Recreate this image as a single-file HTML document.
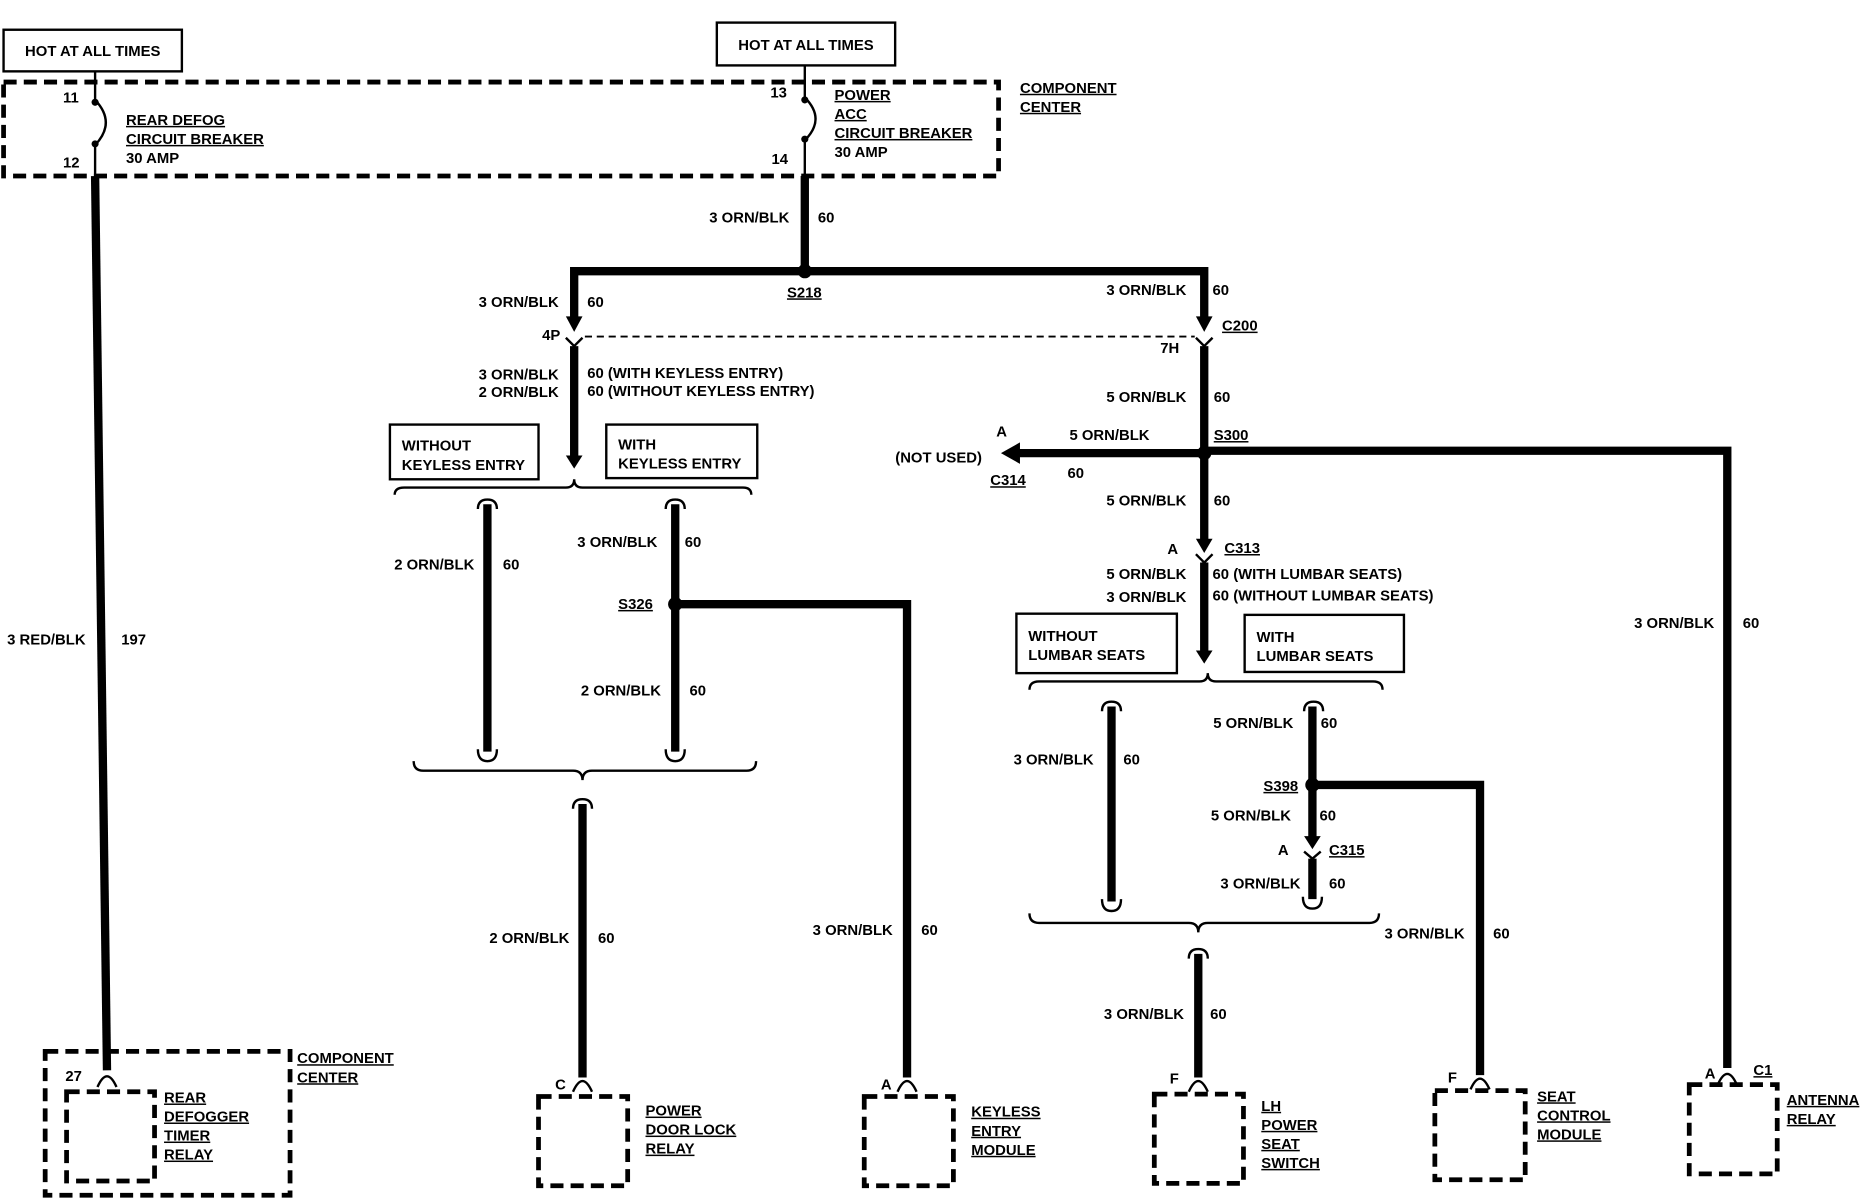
<!DOCTYPE html>
<html><head><meta charset="utf-8"><style>
html,body{margin:0;padding:0;background:#fff;}
svg{display:block}
text{font-family:"Liberation Sans Narrow","Liberation Sans",sans-serif;font-weight:bold;font-size:12.5px;fill:#000}
.e{text-anchor:end}
.u{text-decoration:underline}
.w{stroke:#000;stroke-width:7;fill:none}
.t{stroke:#000;stroke-width:2;fill:none}
.d{stroke:#000;stroke-width:4;fill:none;stroke-dasharray:11,6}
.dt{stroke:#000;stroke-width:1.5;fill:none;stroke-dasharray:6,4}
</style></head><body>
<svg width="1864" height="1200" viewBox="0 0 1568 1009" preserveAspectRatio="none" xmlns="http://www.w3.org/2000/svg">
<!-- top boxes -->
<rect x="3" y="25" width="150" height="35" class="t"/>
<text x="78" y="47" text-anchor="middle">HOT AT ALL TIMES</text>
<rect x="603" y="19" width="150" height="36" class="t"/>
<text x="678" y="42" text-anchor="middle">HOT AT ALL TIMES</text>
<!-- component center dashed -->
<path d="M3,69 H840 V148 H3 Z" class="d"/>
<text x="858" y="78" class="u">COMPONENT</text><text x="858" y="94" class="u">CENTER</text>
<!-- fuse 1 -->
<path d="M80,60 V84 M80,122 V148" class="t"/>
<path d="M80,84 Q98,103 80,122" class="t"/>
<circle cx="80" cy="86" r="3"/><circle cx="80" cy="121" r="3"/>
<text x="53" y="86">11</text><text x="53" y="141">12</text>
<text x="106" y="105" class="u">REAR DEFOG</text><text x="106" y="121" class="u">CIRCUIT BREAKER</text><text x="106" y="137">30 AMP</text>
<!-- fuse 2 -->
<path d="M677,55 V82 M677,118 V148" class="t"/>
<path d="M677,82 Q695,100 677,118" class="t"/>
<circle cx="677" cy="84" r="3"/><circle cx="677" cy="117" r="3"/>
<text x="648" y="82">13</text><text x="649" y="138">14</text>
<text x="702" y="84" class="u">POWER</text><text x="702" y="100" class="u">ACC</text><text x="702" y="116" class="u">CIRCUIT BREAKER</text><text x="702" y="132">30 AMP</text>
<!-- rear defog wire -->
<path d="M80,148 L90,900" class="w"/>
<path d="M82,914 Q86,905 90,905 Q94,905 98,914" class="t" stroke-width="2.5"/>
<text x="72" y="542" class="e">3 RED/BLK</text><text x="102" y="542">197</text>
<path d="M38,884 H244 V1005 H38 Z" class="d"/>
<path d="M56,918 H130 V993 H56 Z" class="d"/>
<text x="55" y="909">27</text>
<text x="138" y="927" class="u">REAR</text><text x="138" y="943" class="u">DEFOGGER</text><text x="138" y="959" class="u">TIMER</text><text x="138" y="975" class="u">RELAY</text>
<text x="250" y="894" class="u">COMPONENT</text><text x="250" y="910" class="u">CENTER</text>
<!-- main feed -->
<path d="M677,148 V228" class="w"/>
<text x="664" y="187" class="e">3 ORN/BLK</text><text x="688" y="187">60</text>
<circle cx="677" cy="228" r="6"/>
<path d="M483,268 V228 H1013 V268" class="w"/>
<text x="662" y="250" class="u">S218</text>
<text x="470" y="258" class="e">3 ORN/BLK</text><text x="494" y="258">60</text>
<text x="998" y="248" class="e">3 ORN/BLK</text><text x="1020" y="248">60</text>
<path d="M476,266 H490 L483,279 Z"/><path d="M1006,266 H1020 L1013,279 Z"/>
<path d="M476,284 L483,291 L490,284 M1006,284 L1013,291 L1020,284" class="t"/>
<path d="M492,283 H1005" class="dt"/>
<text x="456" y="286">4P</text><text x="976" y="297">7H</text>
<text x="1028" y="278" class="u">C200</text>
<!-- left keyless branch -->
<path d="M483,291 V384" class="w"/>
<path d="M476,383 H490 L483,394 Z"/>
<text x="470" y="319" class="e">3 ORN/BLK</text><text x="470" y="334" class="e">2 ORN/BLK</text>
<text x="494" y="318">60 (WITH KEYLESS ENTRY)</text><text x="494" y="333">60 (WITHOUT KEYLESS ENTRY)</text>
<rect x="328" y="357" width="125" height="46" class="t"/>
<text x="338" y="379">WITHOUT</text><text x="338" y="395">KEYLESS ENTRY</text>
<rect x="510" y="357" width="127" height="45" class="t"/>
<text x="520" y="378">WITH</text><text x="520" y="394">KEYLESS ENTRY</text>
<path d="M332,416 Q332,410 340,410 H476 Q483,410 483,403 Q483,410 490,410 H625 Q632,410 632,416" class="t"/>
<path d="M402,428 Q402,420 410,420 Q418,420 418,428 M560,428 Q560,420 568,420 Q576,420 576,428" class="t"/>
<path d="M410,424 V632 M568,424 V632" class="w"/>
<path d="M402,630 Q402,640 410,640 Q418,640 418,630 M560,630 Q560,640 568,640 Q576,640 576,630" class="t"/>
<text x="399" y="479" class="e">2 ORN/BLK</text><text x="423" y="479">60</text>
<text x="553" y="460" class="e">3 ORN/BLK</text><text x="576" y="460">60</text>
<circle cx="568" cy="508" r="6"/>
<text x="520" y="512" class="u">S326</text>
<text x="556" y="585" class="e">2 ORN/BLK</text><text x="580" y="585">60</text>
<path d="M568,508 H763 V906" class="w"/>
<text x="751" y="786" class="e">3 ORN/BLK</text><text x="775" y="786">60</text>
<path d="M755,918 Q759,909 763,909 Q767,909 771,918" class="t" stroke-width="2.5"/>
<text x="741" y="916">A</text>
<path d="M727,922 H802 V997 H727 Z" class="d"/>
<text x="817" y="939" class="u">KEYLESS</text><text x="817" y="955" class="u">ENTRY</text><text x="817" y="971" class="u">MODULE</text>
<path d="M348,640 Q348,648 356,648 H482 Q490,648 490,656 Q490,648 498,648 H628 Q636,648 636,640" class="t"/>
<path d="M482,680 Q482,672 490,672 Q498,672 498,680" class="t"/>
<path d="M490,676 V906" class="w"/>
<text x="479" y="793" class="e">2 ORN/BLK</text><text x="503" y="793">60</text>
<path d="M482,918 Q486,909 490,909 Q494,909 498,918" class="t" stroke-width="2.5"/>
<text x="467" y="916">C</text>
<path d="M453,922 H528 V997 H453 Z" class="d"/>
<text x="543" y="938" class="u">POWER</text><text x="543" y="954" class="u">DOOR LOCK</text><text x="543" y="970" class="u">RELAY</text>
<!-- right branch -->
<path d="M1013,291 V455" class="w"/>
<text x="998" y="338" class="e">5 ORN/BLK</text><text x="1021" y="338">60</text>
<circle cx="1013" cy="381" r="6"/>
<text x="1021" y="370" class="u">S300</text>
<path d="M1013,381 H855" class="w"/>
<path d="M858,372 V390 L842,381 Z"/>
<text x="967" y="370" class="e">5 ORN/BLK</text>
<text x="838" y="367">A</text>
<text x="826" y="389" class="e">(NOT USED)</text>
<text x="833" y="408" class="u">C314</text><text x="898" y="402">60</text>
<path d="M1013,379 H1453 V898" class="w"/>
<text x="1442" y="528" class="e">3 ORN/BLK</text><text x="1466" y="528">60</text>
<path d="M1445,912 Q1449,903 1453,903 Q1457,903 1461,912" class="t" stroke-width="2.5"/>
<text x="1434" y="907">A</text><text x="1475" y="904" class="u">C1</text>
<path d="M1421,912 H1495 V987 H1421 Z" class="d"/>
<text x="1503" y="929" class="u">ANTENNA</text><text x="1503" y="945" class="u">RELAY</text>
<text x="998" y="425" class="e">5 ORN/BLK</text><text x="1021" y="425">60</text>
<path d="M1006,453 H1020 L1013,465 Z"/>
<path d="M1006,466 L1013,473 L1020,466" class="t"/>
<text x="982" y="466">A</text><text x="1030" y="465" class="u">C313</text>
<path d="M1013,473 V548" class="w"/>
<path d="M1006,547 H1020 L1013,558 Z"/>
<text x="998" y="487" class="e">5 ORN/BLK</text><text x="998" y="506" class="e">3 ORN/BLK</text>
<text x="1020" y="487">60 (WITH LUMBAR SEATS)</text><text x="1020" y="505">60 (WITHOUT LUMBAR SEATS)</text>
<rect x="855" y="516" width="135" height="50" class="t"/>
<text x="865" y="539">WITHOUT</text><text x="865" y="555">LUMBAR SEATS</text>
<rect x="1047" y="517" width="134" height="48" class="t"/>
<text x="1057" y="540">WITH</text><text x="1057" y="556">LUMBAR SEATS</text>
<path d="M866,580 Q866,573 874,573 H1009 Q1016,573 1016,566 Q1016,573 1023,573 H1155 Q1163,573 1163,580" class="t"/>
<path d="M927,598 Q927,590 935,590 Q943,590 943,598 M1097,598 Q1097,590 1105,590 Q1113,590 1113,598" class="t"/>
<path d="M935,594 V758" class="w"/>
<path d="M927,756 Q927,766 935,766 Q943,766 943,756" class="t"/>
<text x="920" y="643" class="e">3 ORN/BLK</text><text x="945" y="643">60</text>
<path d="M1104,594 V706" class="w"/>
<text x="1088" y="612" class="e">5 ORN/BLK</text><text x="1111" y="612">60</text>
<circle cx="1104" cy="660" r="6"/>
<text x="1092" y="665" class="e u">S398</text>
<path d="M1104,660 H1245 V904" class="w"/>
<text x="1232" y="789" class="e">3 ORN/BLK</text><text x="1256" y="789">60</text>
<path d="M1237,916 Q1241,907 1245,907 Q1249,907 1253,916" class="t" stroke-width="2.5"/>
<text x="1218" y="910">F</text>
<path d="M1207,917 H1283 V992 H1207 Z" class="d"/>
<text x="1293" y="926" class="u">SEAT</text><text x="1293" y="942" class="u">CONTROL</text><text x="1293" y="958" class="u">MODULE</text>
<text x="1086" y="690" class="e">5 ORN/BLK</text><text x="1110" y="690">60</text>
<path d="M1097,703 H1111 L1104,714 Z"/>
<path d="M1097,716 L1104,722 L1111,716" class="t"/>
<text x="1075" y="719">A</text><text x="1118" y="719" class="u">C315</text>
<path d="M1104,722 V756" class="w"/>
<path d="M1096,754 Q1096,764 1104,764 Q1112,764 1112,754" class="t"/>
<text x="1094" y="747" class="e">3 ORN/BLK</text><text x="1118" y="747">60</text>
<path d="M866,768 Q866,776 874,776 H1000 Q1008,776 1008,784 Q1008,776 1016,776 H1152 Q1160,776 1160,768" class="t"/>
<path d="M1000,806 Q1000,798 1008,798 Q1016,798 1016,806" class="t"/>
<path d="M1008,802 V906" class="w"/>
<text x="996" y="857" class="e">3 ORN/BLK</text><text x="1018" y="857">60</text>
<path d="M1000,918 Q1004,909 1008,909 Q1012,909 1016,918" class="t" stroke-width="2.5"/>
<text x="984" y="911">F</text>
<path d="M971,920 H1046 V995 H971 Z" class="d"/>
<text x="1061" y="934" class="u">LH</text><text x="1061" y="950" class="u">POWER</text><text x="1061" y="966" class="u">SEAT</text><text x="1061" y="982" class="u">SWITCH</text>
</svg>
</body></html>
